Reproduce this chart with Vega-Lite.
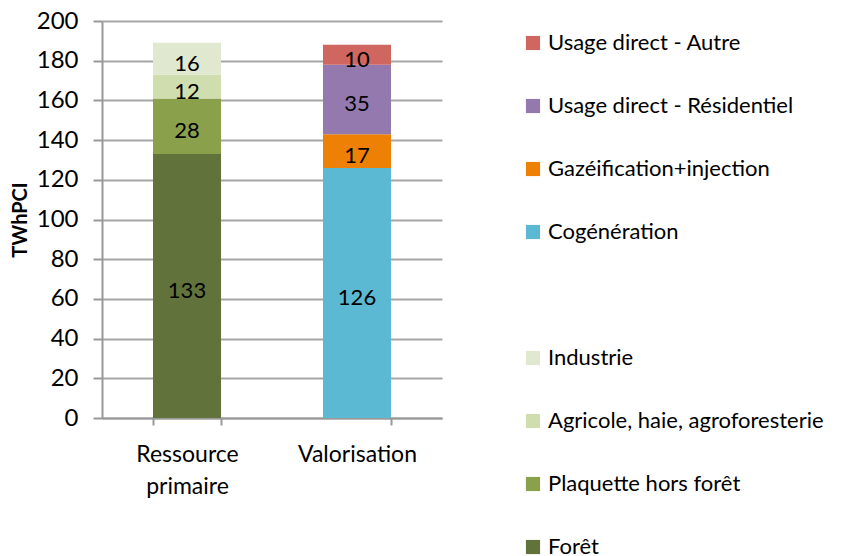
{
  "$schema": "https://vega.github.io/schema/vega-lite/v6.json",
  "width": 340,
  "height": 397,
  "autosize": "none",
  "padding": {"left": 102, "top": 21, "right": 418, "bottom": 138},
  "background": "white",
  "config": {"font": "Lato", "view": {"stroke": null}},
  "data": {
    "values": [
      {"cat": "Ressource primaire", "serie": "Forêt", "rang": 1, "val": 133},
      {"cat": "Ressource primaire", "serie": "Plaquette hors forêt", "rang": 2, "val": 28},
      {"cat": "Ressource primaire", "serie": "Agricole, haie, agroforesterie", "rang": 3, "val": 12},
      {"cat": "Ressource primaire", "serie": "Industrie", "rang": 4, "val": 16},
      {"cat": "Valorisation", "serie": "Cogénération", "rang": 1, "val": 126},
      {"cat": "Valorisation", "serie": "Gazéification+injection", "rang": 2, "val": 17},
      {"cat": "Valorisation", "serie": "Usage direct - Résidentiel", "rang": 3, "val": 35},
      {"cat": "Valorisation", "serie": "Usage direct - Autre", "rang": 4, "val": 10}
    ]
  },
  "encoding": {
    "x": {
      "field": "cat", "type": "nominal", "title": null,
      "scale": {"paddingInner": 0.6, "paddingOuter": 0.3},
      "axis": {
        "labelAngle": 0, "labelFontSize": 23, "labelColor": "#000", "labelFont": "Lato",
        "labelExpr": "datum.label == 'Ressource primaire' ? ['Ressource', 'primaire'] : datum.label",
        "labelPadding": 18, "labelLineHeight": 32,
        "domainColor": "#999", "domainWidth": 2, "tickColor": "#999", "tickWidth": 2, "tickSize": 7,
        "tickBand": "extent"
      }
    }
  },
  "layer": [
    {
      "mark": {"type": "bar"},
      "encoding": {
        "y": {
          "field": "val", "type": "quantitative", "stack": "zero",
          "scale": {"domain": [0, 200]},
          "title": "TWhPCI",
          "axis": {
            "values": [0, 20, 40, 60, 80, 100, 120, 140, 160, 180, 200],
            "labelOverlap": false,
            "labelFontSize": 24, "labelColor": "#000", "labelPadding": 15,
            "titleFontSize": 20, "titleFontWeight": "bold", "titleColor": "#000", "titlePadding": 6,
            "gridColor": "#a6a6a6", "gridWidth": 2,
            "domainColor": "#999", "domainWidth": 2, "tickColor": "#999", "tickWidth": 2, "tickSize": 9
          }
        },
        "order": {"field": "rang", "type": "quantitative"},
        "color": {
          "field": "serie", "type": "nominal",
          "scale": {
            "domain": ["Usage direct - Autre", "Usage direct - Résidentiel", "Gazéification+injection", "Cogénération", " ", "Industrie", "Agricole, haie, agroforesterie", "Plaquette hors forêt", "Forêt"],
            "range": ["#CF665F", "#9479AE", "#EF8006", "#5CB9D3", "transparent", "#E0E9D0", "#D0DDAE", "#8BA04B", "#61733A"]
          },
          "legend": {
            "orient": "none", "legendX": 420, "legendY": 11,
            "title": null, "symbolType": "square", "symbolSize": 200, "symbolStrokeWidth": 0,
            "labelFontSize": 22, "labelColor": "#000", "labelFont": "Lato", "labelLimit": 400,
            "rowPadding": 41, "labelOffset": 4
          }
        }
      }
    },
    {
      "mark": {"type": "text", "fontSize": 22, "color": "#000", "font": "Lato", "dy": 5},
      "encoding": {
        "y": {
          "field": "val", "type": "quantitative", "stack": "zero", "bandPosition": 0.5,
          "scale": {"domain": [0, 200]},
          "title": "TWhPCI",
          "axis": {
            "values": [0, 20, 40, 60, 80, 100, 120, 140, 160, 180, 200],
            "labelOverlap": false,
            "labelFontSize": 24, "labelColor": "#000", "labelPadding": 15,
            "titleFontSize": 20, "titleFontWeight": "bold", "titleColor": "#000", "titlePadding": 6,
            "gridColor": "#a6a6a6", "gridWidth": 2,
            "domainColor": "#999", "domainWidth": 2, "tickColor": "#999", "tickWidth": 2, "tickSize": 9
          }
        },
        "order": {"field": "rang", "type": "quantitative"},
        "detail": {"field": "serie"},
        "text": {"field": "val", "type": "quantitative"}
      }
    }
  ]
}
